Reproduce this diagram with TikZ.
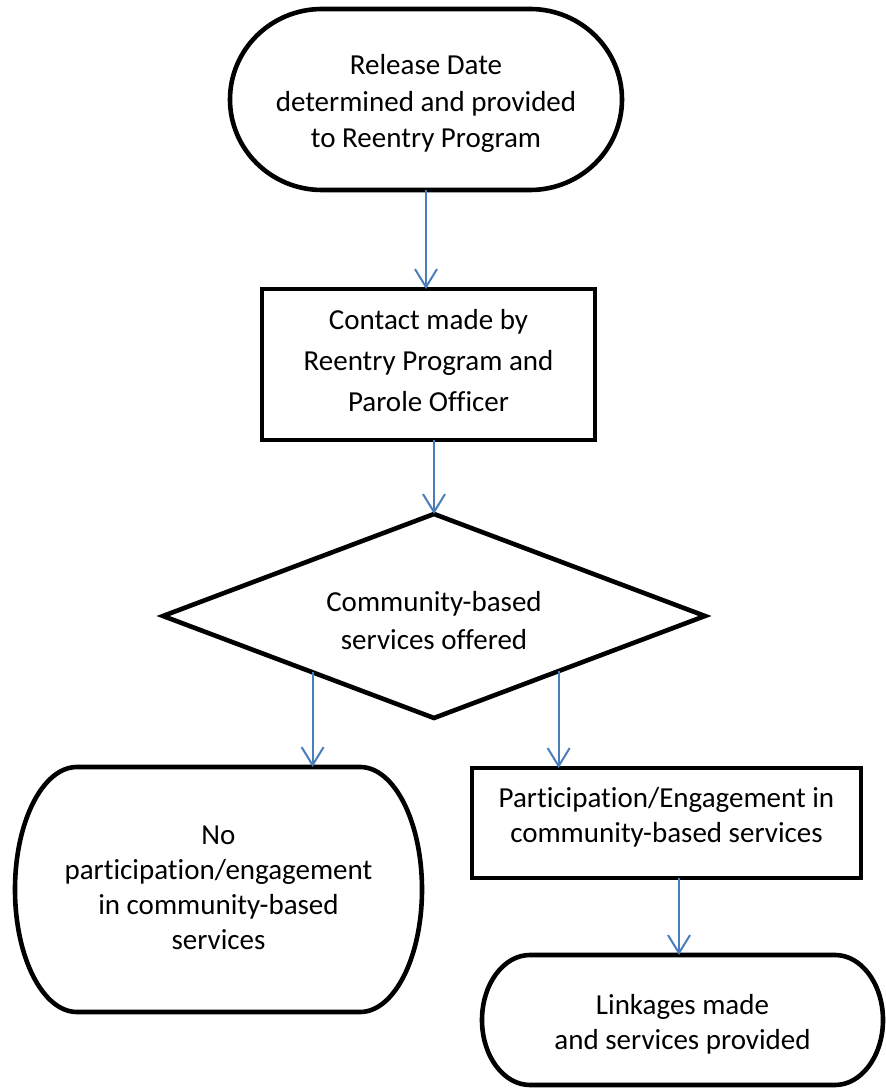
\documentclass[tikz,border=0pt]{standalone}
\usepackage{fontspec}
\setmainfont[Ligatures=NoCommon]{Carlito}
\usetikzlibrary{arrows.meta,calc}

\definecolor{arrowblue}{RGB}{74,126,187}

\tikzset{
  frame/.style={draw=none,inner sep=0pt,outer sep=0pt},
  txt/.style={inner sep=0pt,outer sep=0pt,align=center,
    font=\fontsize{29}{35}\selectfont},
  shapeline/.style={draw=black,line width=4.6pt},
  flow/.style={draw=arrowblue,line width=2pt,
    -{Straight Barb[length=18pt,width=22pt]}},
}

% outline of a terminator: straight top and bottom, half-elliptic ends
\newcommand\termoutline[3]{%
  \draw[shapeline] ([xshift=#2pt]#1.north west) -- ([xshift=-#2pt]#1.north east)
    arc[start angle=90,end angle=-90,x radius=#2pt,y radius=#3pt]
    -- ([xshift=#2pt]#1.south west)
    arc[start angle=270,end angle=90,x radius=#2pt,y radius=#3pt] -- cycle;}

\begin{document}
\begin{tikzpicture}[x=1pt,y=1pt]
\useasboundingbox (0,0) rectangle (886,1088);

% shape frames
\node[frame,minimum width=392pt,minimum height=181pt] (start) at (426,988.5) {};
\node[frame,minimum width=333pt,minimum height=151pt] (contact) at (428.5,723.5) {};
\node[frame,minimum width=542pt,minimum height=204pt] (decision) at (434,472) {};
\node[frame,minimum width=407pt,minimum height=245pt] (noengage) at (218.5,198.5) {};
\node[frame,minimum width=389pt,minimum height=110pt] (engage) at (666.5,265) {};
\node[frame,minimum width=401pt,minimum height=130pt] (linkages) at (682.5,68) {};

% texts
\node[txt,font=\fontsize{29}{36.5}\selectfont] (starttext) at ([yshift=-4pt]start.center)
  {Release Date\\determined and provided\\to Reentry Program};
\node[txt,font=\fontsize{29}{41}\selectfont] (contacttext) at ([yshift=3.5pt]contact.center)
  {Contact made by\\Reentry Program and\\Parole Officer};
\node[txt,font=\fontsize{29}{38}\selectfont] (decisiontext) at ([yshift=-5pt]decision.center)
  {Community-based\\services offered};
\node[txt] (noengagetext) at ([yshift=2pt]noengage.center)
  {No\\participation/engagement\\in community-based\\services};
\node[txt] (engagetext) at ([yshift=5.5pt]engage.center)
  {Participation/Engagement in\\community-based services};
\node[txt] (linkagestext) at ([yshift=-4.5pt]linkages.center)
  {Linkages made\\and services provided};

% outlines
\termoutline{start}{92}{90.5}
\draw[shapeline] (contact.north west) rectangle (contact.south east);
\draw[shapeline] (decision.north) -- (decision.east) -- (decision.south)
  -- (decision.west) -- cycle;
\termoutline{noengage}{62}{122.5}
\draw[shapeline] (engage.north west) rectangle (engage.south east);
\termoutline{linkages}{48}{65}

% connector start points
\coordinate (dl) at ($(decision.west)!0.552!(decision.south)$);
\coordinate (dr) at ($(decision.east)!0.54!(decision.south)$);
\coordinate (eo) at ([xshift=12.5pt]engage.south);

% connectors
\draw[flow] (start.south) -- (start.south |- contact.north);
\draw[flow] (decision.north |- contact.south) -- (decision.north);
\draw[flow] (dl) -- (dl |- noengage.north);
\draw[flow] (dr) -- (dr |- engage.north);
\draw[flow] (eo) -- (eo |- linkages.north);
\end{tikzpicture}
\end{document}
